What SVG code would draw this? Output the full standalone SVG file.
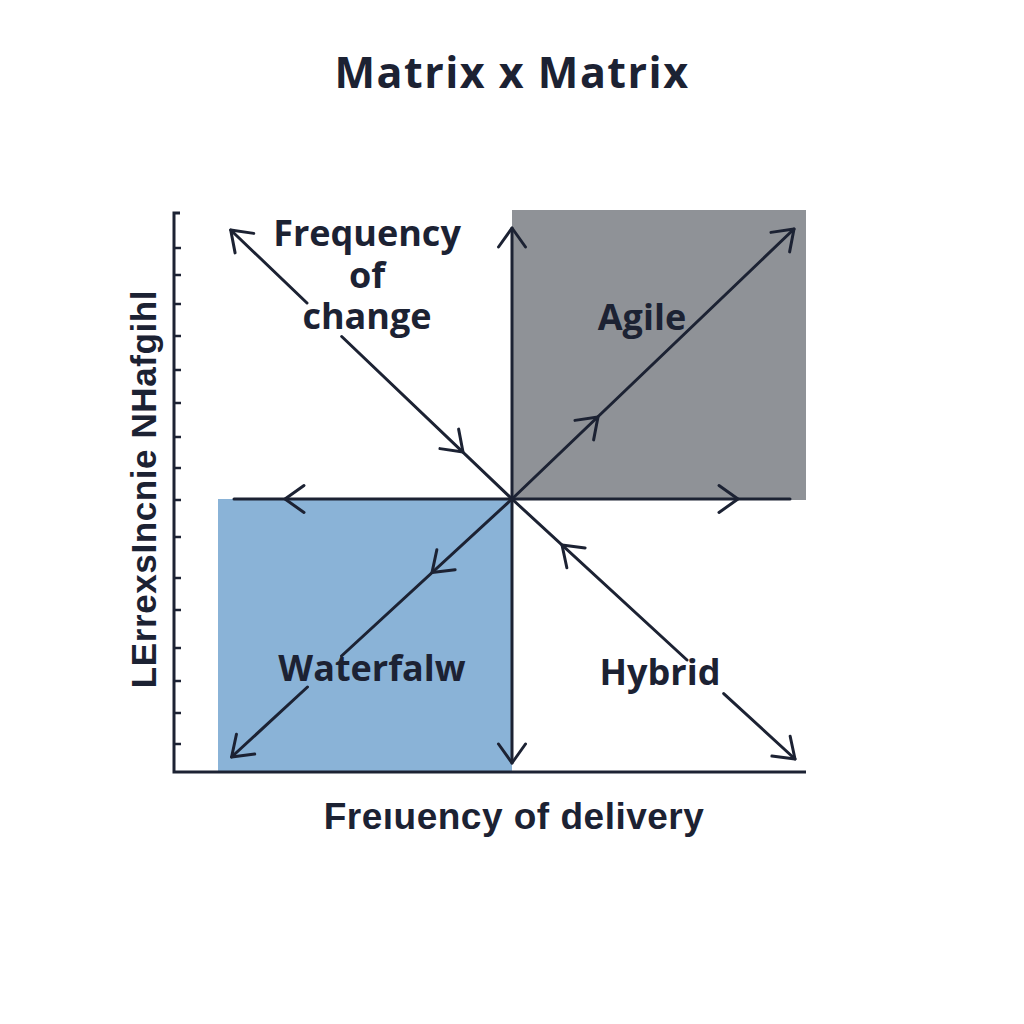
<svg xmlns="http://www.w3.org/2000/svg" xmlns:xlink="http://www.w3.org/1999/xlink" width="1024" height="1024" viewBox="0 0 1024 1024">
  <style>
    .ln { stroke: #1c2233; stroke-width: 3; fill: none; stroke-linecap: round; stroke-linejoin: round; }
    .ax { stroke: #1c2233; stroke-width: 3; fill: none; }
    .tk { stroke: #1c2233; stroke-width: 2.5; }
    .lbl { font-family: "Open Sans", "Noto Sans", "DejaVu Sans", sans-serif; font-weight: 700; font-size: 36px; fill: #1c2233; text-anchor: middle; }
    .axl { font-family: "Liberation Sans", Arial, sans-serif; font-weight: 700; fill: #1c2233; text-anchor: middle; }
  </style>
  <defs>
    <path id="chev" d="M-19,-13.5 L0,0 L-19,13.5" class="ln"/>
  </defs>
  <rect width="1024" height="1024" fill="#ffffff"/>

  <text id="title" x="512" y="88" class="lbl" style="font-size:43px;letter-spacing:1.5px">Matrix x Matrix</text>

  <g id="quadrants">
    <g id="agile-quad"><rect x="512" y="210" width="294" height="290" fill="#8f9297"/></g>
    <g id="waterfall-quad"><rect x="218" y="499" width="294" height="273" fill="#8ab3d7"/></g>
  </g>

  <g id="axes">
    <path class="ax" d="M180,213 H174 V772 H806"/>
    <g class="tk">
      <line x1="174" y1="248" x2="181" y2="248"/>
      <line x1="174" y1="275" x2="181" y2="275"/>
      <line x1="174" y1="304" x2="181" y2="304"/>
      <line x1="174" y1="336" x2="181" y2="336"/>
      <line x1="174" y1="370" x2="181" y2="370"/>
      <line x1="174" y1="403" x2="181" y2="403"/>
      <line x1="174" y1="437" x2="181" y2="437"/>
      <line x1="174" y1="468" x2="181" y2="468"/>
      <line x1="174" y1="500" x2="181" y2="500"/>
      <line x1="174" y1="537" x2="181" y2="537"/>
      <line x1="174" y1="578" x2="181" y2="578"/>
      <line x1="174" y1="610" x2="181" y2="610"/>
      <line x1="174" y1="648" x2="181" y2="648"/>
      <line x1="174" y1="681" x2="181" y2="681"/>
      <line x1="174" y1="713" x2="181" y2="713"/>
      <line x1="174" y1="744" x2="181" y2="744"/>
    </g>
    <text id="y-label" class="axl" style="font-size:35px;letter-spacing:0.6px" transform="translate(156,489) rotate(-90)">LErrexsIncnie NHafgihl</text>
    <text id="x-label" x="514" y="829" class="axl" style="font-size:37px;letter-spacing:0.5px">Freıuency of delivery</text>
  </g>

  <g id="connectors">
    <line class="ln" x1="234" y1="499" x2="790" y2="499"/>
    <line class="ln" x1="512" y1="228" x2="512" y2="763"/>
    <line class="ln" x1="230.7" y1="230" x2="307" y2="303"/>
    <line class="ln" x1="341.7" y1="336.5" x2="512" y2="499"/>
    <line class="ln" x1="512" y1="499" x2="687" y2="660"/>
    <line class="ln" x1="723.7" y1="693.6" x2="795" y2="759"/>
    <line class="ln" x1="512" y1="499" x2="794" y2="229"/>
    <line class="ln" x1="512" y1="499" x2="341.5" y2="656"/>
    <line class="ln" x1="307.5" y1="687" x2="231.6" y2="757"/>

    <use xlink:href="#chev" transform="translate(285,499) rotate(180)"/>
    <use xlink:href="#chev" transform="translate(738,499)"/>
    <use xlink:href="#chev" transform="translate(512,228) rotate(-90)"/>
    <use xlink:href="#chev" transform="translate(512,763) rotate(90)"/>
    <use xlink:href="#chev" transform="translate(230.7,230) rotate(-136.25)"/>
    <use xlink:href="#chev" transform="translate(463,452) rotate(43.75)"/>
    <use xlink:href="#chev" transform="translate(795,759) rotate(42.6)"/>
    <use xlink:href="#chev" transform="translate(562,545) rotate(-137.4)"/>
    <use xlink:href="#chev" transform="translate(794,229) rotate(-43.75)"/>
    <use xlink:href="#chev" transform="translate(598,417) rotate(-43.75)"/>
    <use xlink:href="#chev" transform="translate(231.6,757) rotate(137.4)"/>
    <use xlink:href="#chev" transform="translate(432,572.6) rotate(137.4)"/>
  </g>

  <g id="node-frequency-of-change">
    <text class="lbl" x="367" y="246"><tspan x="367" y="246">Frequency</tspan><tspan x="367" y="288">of</tspan><tspan x="367" y="329">change</tspan></text>
  </g>
  <g id="node-agile"><text class="lbl" x="642" y="330">Agile</text></g>
  <g id="node-waterfall"><text class="lbl" x="372" y="681">Waterfalw</text></g>
  <g id="node-hybrid"><text class="lbl" x="660" y="685">Hybrid</text></g>
</svg>
